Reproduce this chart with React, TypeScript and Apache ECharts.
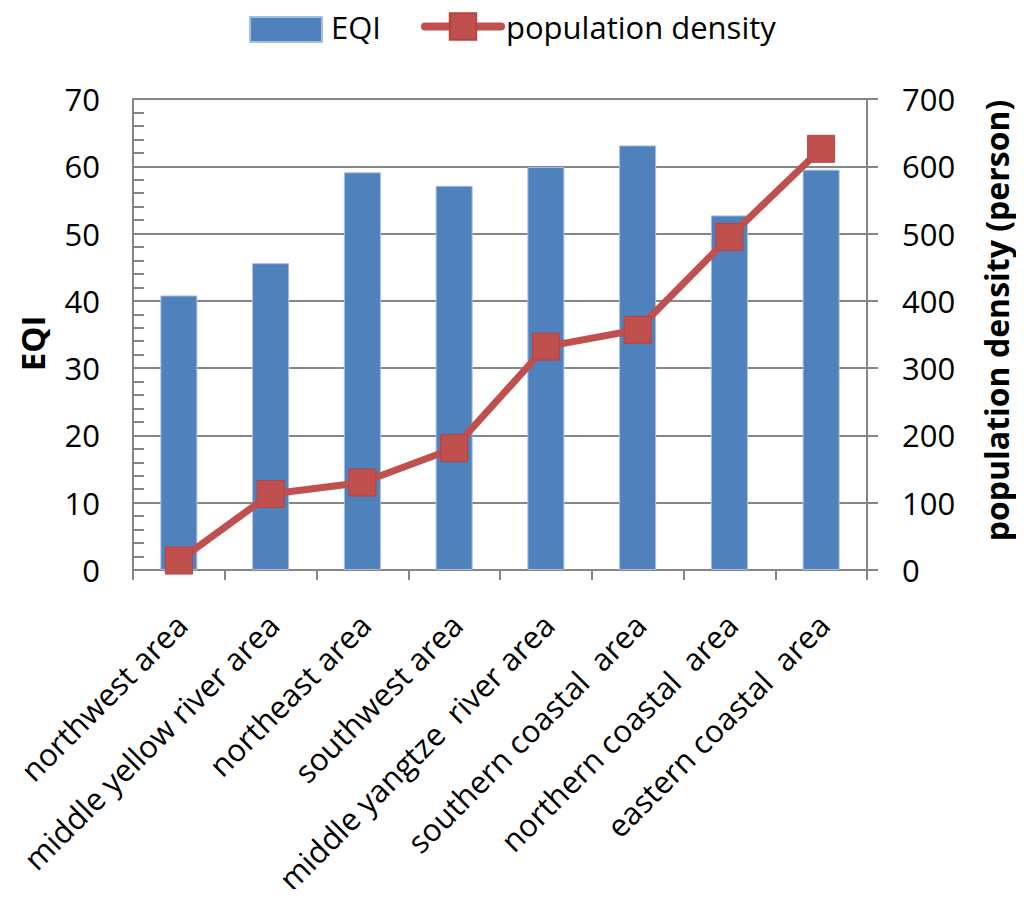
import React, { useEffect, useRef } from "react";
import * as echarts from "echarts";

const categories = [
  "northwest area",
  "middle yellow river area",
  "northeast area",
  "southwest area",
  "middle yangtze  river area",
  "southern coastal  area",
  "northern coastal  area",
  "eastern coastal  area",
];
const eqiValues = [40.8, 45.6, 59.1, 57.1, 59.9, 63.1, 52.7, 59.5];
const densityValues = [14, 113, 130, 181, 332, 357, 495, 626];

const FONT = "'Open Sans', 'Noto Sans', sans-serif";
const GRAY = "#868686";

export default function App() {
  const ref = useRef<HTMLDivElement>(null);
  useEffect(() => {
    if (!ref.current) return;
    const chart = echarts.init(ref.current, undefined, { renderer: "svg" });
    chart.setOption({
      animation: false,
      backgroundColor: "#ffffff",
      textStyle: { fontFamily: FONT, color: "#000" },
      legend: {
        left: 249,
        top: 9,
        padding: 0,
        itemWidth: 76,
        itemHeight: 33,
        itemGap: 40,
        textStyle: { fontSize: 31, fontFamily: FONT, color: "#000", lineHeight: 33 },
        lineStyle: { width: 8, cap: "round" },
        data: [
          { name: "EQI", icon: "path://M0,0M0,7L72,7L72,32L0,32ZM76,33" },
          { name: "population density" },
        ],
      },
      grid: { left: 133, right: 157, top: 99, bottom: 324 },
      xAxis: {
        type: "category",
        data: categories,
        axisLine: { lineStyle: { color: GRAY, width: 2 } },
        axisTick: { show: true, alignWithLabel: false, length: 10, lineStyle: { color: GRAY, width: 2 } },
        axisLabel: {
          rotate: 45,
          interval: 0,
          fontSize: 31,
          fontFamily: FONT,
          color: "#000",
          margin: 30,
          align: "right",
          verticalAlign: "top",
          padding: [0, 12, 0, 0],
        },
      },
      yAxis: [
        {
          type: "value",
          min: 0,
          max: 70,
          interval: 10,
          name: "EQI",
          nameLocation: "middle",
          nameRotate: 90,
          nameGap: 84,
          nameTextStyle: {
            fontSize: 33,
            fontWeight: "bold",
            fontFamily: FONT,
            color: "#000",
            padding: [0, 18, 0, 0],
          },
          axisLine: { show: true, lineStyle: { color: GRAY, width: 2 } },
          axisTick: { show: true, inside: true, length: 11, lineStyle: { color: GRAY, width: 2 } },
          minorTick: { show: true, splitNumber: 5, length: 11, lineStyle: { color: GRAY, width: 2 } },
          splitLine: { show: true, lineStyle: { color: GRAY, width: 2 } },
          axisLabel: { fontSize: 31, fontFamily: FONT, color: "#000", margin: 33 },
        },
        {
          type: "value",
          min: 0,
          max: 700,
          interval: 100,
          name: "population density (person)",
          nameLocation: "middle",
          nameRotate: 90,
          nameGap: 113,
          nameTextStyle: {
            fontSize: 32,
            fontWeight: "bold",
            fontFamily: FONT,
            color: "#000",
            padding: [0, 0, 0, 28],
          },
          axisLine: { show: true, lineStyle: { color: GRAY, width: 2 } },
          axisTick: { show: true, inside: false, length: 11, lineStyle: { color: GRAY, width: 2 } },
          splitLine: { show: false },
          axisLabel: { fontSize: 31, fontFamily: FONT, color: "#000", margin: 35 },
        },
      ],
      series: [
        {
          name: "EQI",
          type: "bar",
          yAxisIndex: 0,
          data: eqiValues,
          barWidth: 37,
          itemStyle: { color: "#4F81BD", borderColor: "#A7BFDE", borderWidth: 1 },
        },
        {
          name: "population density",
          type: "line",
          yAxisIndex: 1,
          data: densityValues,
          symbol: "rect",
          symbolSize: 27,
          lineStyle: { color: "#C0504D", width: 7 },
          itemStyle: { color: "#C0504D", borderColor: "#B9423F", borderWidth: 1 },
        },
      ],
    });
    return () => chart.dispose();
  }, []);
  return <div ref={ref} style={{ width: 1024, height: 897, margin: -8 }} />;
}
